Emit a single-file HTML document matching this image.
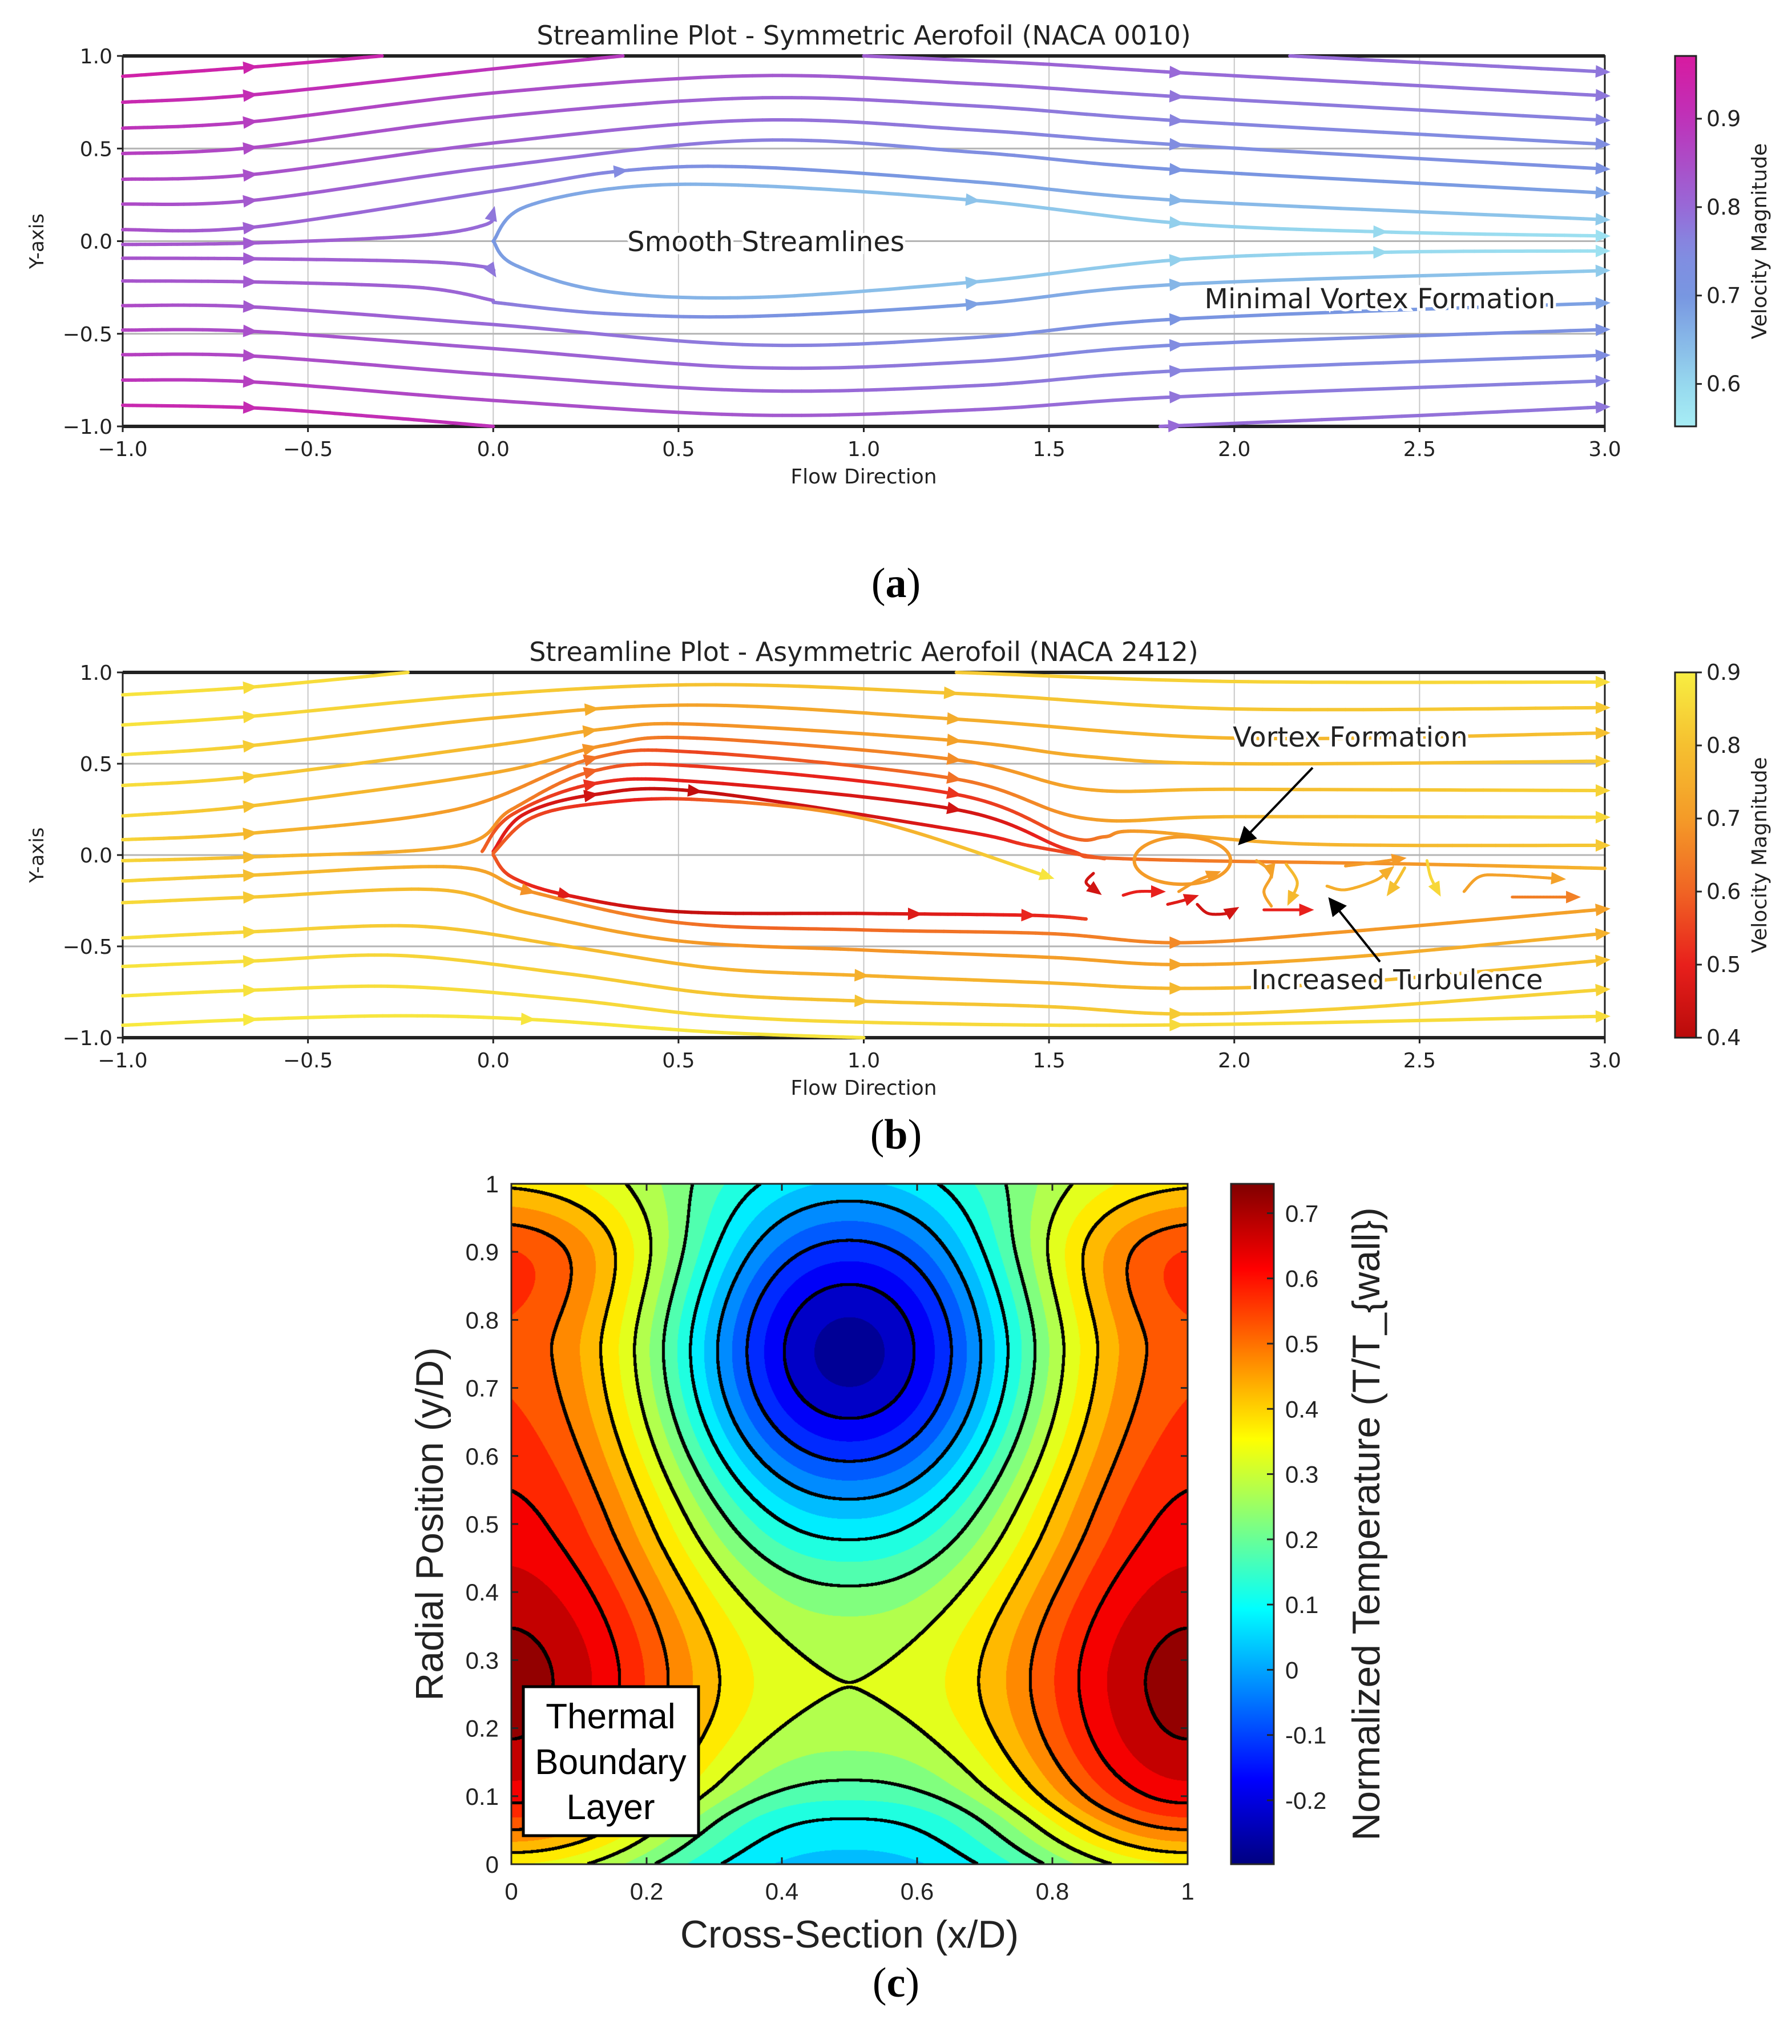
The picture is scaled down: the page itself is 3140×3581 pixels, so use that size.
<!DOCTYPE html>
<html><head><meta charset="utf-8"><style>
html,body{margin:0;padding:0;background:#fff}
#root{position:relative;width:3140px;height:3581px;overflow:hidden;background:#fff}
#cv{position:absolute;left:896px;top:2074px}
#svg{position:absolute;left:0;top:0}
</style></head><body>
<div id="root">
<canvas id="cv" width="1185" height="1192"></canvas>
<svg id="svg" width="3140" height="3581" xmlns="http://www.w3.org/2000/svg"></svg>
</div>
<script>
// ---------- DATA ----------
const xTicksAB=[-1,-0.5,0,0.5,1,1.5,2,2.5,3];
const xTickLabelsAB=["\u22121.0","\u22120.5","0.0","0.5","1.0","1.5","2.0","2.5","3.0"];
const yTicksAB=[-1,-0.5,0,0.5,1];
const yTickLabelsAB=["\u22121.0","\u22120.5","0.0","0.5","1.0"];
const cbTicksA=[0.6,0.7,0.8,0.9];
const cbTicksB=[0.4,0.5,0.6,0.7,0.8,0.9];
const cbTicksC=[-0.2,-0.1,0,0.1,0.2,0.3,0.4,0.5,0.6,0.7];
const cbTickLabelsC=["-0.2","-0.1","0","0.1","0.2","0.3","0.4","0.5","0.6","0.7"];
const xTicksC=[0,0.2,0.4,0.6,0.8,1];
const xTickLabelsC=["0","0.2","0.4","0.6","0.8","1"];
const yTicksC=[0,0.1,0.2,0.3,0.4,0.5,0.6,0.7,0.8,0.9,1];
const yTickLabelsC=["0","0.1","0.2","0.3","0.4","0.5","0.6","0.7","0.8","0.9","1"];

// panel (a) streamlines
const linesA_pts=[
 [[-1,.89],[-.65,.94],[-.3,1.0]],
 [[-1,.75],[-.65,.79],[0,.93],[.35,1.0]],
 [[1.0,1.0],[1.45,.96],[1.85,.91],[2.4,.85],[3,.785]],
 [[2.15,1.0],[2.6,.955],[3,.914]],
 [[-1,.61],[-.65,.645],[0,.8],[.7,.893],[1.3,.85],[1.85,.78],[3,.653]],
 [[-1,.473],[-.65,.505],[0,.67],[.7,.773],[1.3,.73],[1.85,.65],[3,.523]],
 [[-1,.334],[-.65,.36],[0,.53],[.7,.653],[1.3,.6],[1.85,.52],[3,.39]],
 [[-1,.2],[-.65,.22],[0,.4],[.7,.544],[1.3,.48],[1.85,.385],[3,.26]],
 [[-1,.062],[-.65,.075],[0,.27],[.35,.38],[.7,.4],[1.3,.32],[1.85,.22],[3,.116]],
 [[-1,-.018],[-.65,-.01],[-.2,.03],[-.02,.09],[0,.16]],
 [[0,0],[.08,.18],[.35,.29],[.7,.3],[1.3,.22],[1.85,.097],[2.4,.05],[3,.028]],
 [[-1,-.092],[-.65,-.095],[-.2,-.11],[-.02,-.14],[0,-.17]],
 [[0,0],[.06,-.13],[.3,-.27],[.7,-.304],[1.3,-.22],[1.85,-.1],[2.4,-.06],[3,-.053]],
 [[-1,-.215],[-.65,-.22],[-.2,-.25],[0,-.32]],
 [[0,-.33],[.3,-.39],[.7,-.406],[1.3,-.34],[1.85,-.233],[3,-.159]],
 [[-1,-.348],[-.65,-.355],[0,-.45],[.7,-.56],[1.3,-.52],[1.85,-.42],[3,-.334]],
 [[-1,-.48],[-.65,-.487],[0,-.58],[.7,-.683],[1.3,-.65],[1.85,-.56],[3,-.477]],
 [[-1,-.613],[-.65,-.62],[0,-.72],[.7,-.807],[1.3,-.78],[1.85,-.7],[3,-.616]],
 [[-1,-.75],[-.65,-.76],[0,-.86],[.7,-.939],[1.3,-.91],[1.85,-.84],[3,-.754]],
 [[-1,-.886],[-.65,-.9],[-.3,-.95],[0,-1.0]],
 [[1.8,-1.0],[2.4,-.95],[3,-.895]]
];
const linesA_v=[[.95,.93],[.93,.88],[.82,.78],[.8,.78],[.9,.76],[.88,.74],[.87,.72],[.86,.68],[.85,.62],[.84,.78],[.7,.58],[.84,.78],[.7,.58],[.84,.8],[.78,.62],[.86,.68],[.87,.72],[.88,.74],[.9,.76],[.93,.9],[.8,.78]];
const linesA_arrows=[[-.65],[-.65],[1.85,3],[3],[-.65,1.85,3],[-.65,1.85,3],[-.65,1.85,3],[-.65,1.85,3],[-.65,.35,1.85,3],[-.65,0],[1.3,1.85,2.4,3],[-.65,0],[1.3,1.85,2.4,3],[-.65],[1.3,1.85,3],[-.65,1.85,3],[-.65,1.85,3],[-.65,1.85,3],[-.65,1.85,3],[-.65],[1.85,3]];

// panel (b) streamlines
const linesB_pts=[
 [[-1,.877],[-.65,.92],[-.23,1.0]],
 [[1.25,1.0],[2,.95],[3,.947]],
 [[-1,.712],[-.65,.76],[0,.88],[.6,.933],[1.3,.88],[2,.8],[3,.807]],
 [[-1,.549],[-.65,.6],[0,.75],[.55,.821],[1.25,.744],[2,.64],[3,.668]],
 [[-1,.381],[-.65,.43],[0,.6],[.3,.69],[.55,.716],[1.25,.626],[1.6,.54],[2,.5],[3,.514]],
 [[-1,.214],[-.65,.27],[0,.45],[.3,.6],[.55,.64],[1.25,.521],[1.6,.36],[2,.36],[3,.353]],
 [[-1,.084],[-.65,.12],[-.1,.25],[.27,.53],[.55,.563],[1.25,.416],[1.6,.2],[2,.21],[3,.207]],
 [[-1,-.031],[-.65,-.01],[-.1,.05],[.05,.25],[.27,.46],[.55,.486],[1.25,.332],[1.55,.1],[1.65,.1],[1.75,.13],[2.2,.06],[3,.053]],
 [[-.03,.02],[.05,.22],[.27,.39],[.55,.402],[1.25,.249],[1.55,.03],[1.7,-.02],[2.5,-.05],[3,-.073]],
 [[0,.02],[.08,.22],[.27,.33],[.55,.349],[1.25,.137],[1.45,.05],[1.65,-.02]],
 [[0,.01],[.1,.2],[.27,.28],[.55,.304],[1.0,.2],[1.5,-.12]],
 [[0,0],[.05,-.12],[.2,-.22],[.5,-.31],[1.0,-.32],[1.45,-.33],[1.6,-.35]],
 [[-1,-.142],[-.65,-.11],[-.1,-.066],[.1,-.2],[.5,-.37],[1,-.41],[1.5,-.43],[1.85,-.48],[2.3,-.42],[3,-.296]],
 [[-1,-.261],[-.65,-.23],[-.15,-.19],[.1,-.32],[.5,-.47],[1,-.52],[1.5,-.56],[1.85,-.6],[2.3,-.56],[3,-.429]],
 [[-1,-.454],[-.65,-.42],[-.2,-.39],[.2,-.5],[.6,-.62],[1.0,-.66],[1.5,-.7],[1.85,-.73],[2.3,-.7],[3,-.575]],
 [[-1,-.61],[-.65,-.58],[-.25,-.55],[.2,-.65],[.6,-.76],[1,-.8],[1.5,-.83],[1.85,-.87],[2.3,-.84],[3,-.736]],
 [[-1,-.771],[-.65,-.74],[-.25,-.72],[.2,-.79],[.6,-.88],[1.1,-.92],[1.85,-.93],[3,-.883]],
 [[-1,-.932],[-.65,-.9],[-.25,-.88],[.1,-.9],[.6,-.97],[1.0,-1.0]]
];
const linesB_v=[[.88,.86,.86],[.82,.84,.86],[.88,.8,.82],[.88,.72,.8],[.87,.68,.82],[.86,.62,.84],[.85,.55,.85],[.85,.5,.82],[.6,.45,.78],[.5,.42,.6],[.6,.5,.88],[.6,.42,.55],[.85,.6,.72],[.86,.68,.76],[.87,.75,.8],[.88,.8,.84],[.88,.85,.86],[.89,.88,.88]];
const linesB_arrows=[[-.65],[3],[-.65,1.25,3],[-.65,.27,1.25,3],[-.65,.27,1.25,3],[-.65,.27,1.25,3],[-.65,.27,1.25,3],[-.65,.27,1.25,3],[.27,1.25],[.27,.55],[1.5],[.2,1.15,1.45],[-.65,.1,1.85,3],[-.65,1.85,3],[-.65,1.0,1.85,3],[-.65,1.0,1.85,3],[-.65,1.85,3],[-.65,.1]];
const fragB_pts=[
 [[1.62,-.1],[1.6,-.15],[1.63,-.2]],
 [[1.7,-.22],[1.74,-.2],[1.8,-.2]],
 [[1.82,-.27],[1.86,-.25],[1.89,-.23]],
 [[1.9,-.27],[1.93,-.32],[1.98,-.32],[2.0,-.3]],
 [[2.08,-.3],[2.13,-.3],[2.2,-.3]],
 [[2.06,-.03],[2.1,-.1],[2.08,-.2],[2.1,-.28]],
 [[2.14,-.05],[2.17,-.15],[2.15,-.25]],
 [[2.25,-.17],[2.3,-.19],[2.38,-.14],[2.42,-.08]],
 [[2.46,-.07],[2.44,-.14],[2.42,-.2]],
 [[2.52,-.03],[2.53,-.12],[2.55,-.2]],
 [[2.62,-.2],[2.66,-.12],[2.72,-.11],[2.88,-.13]],
 [[2.75,-.23],[2.92,-.23]],
 [[2.3,-.06],[2.38,-.04],[2.45,-.02]],
 [[1.85,-.2],[1.9,-.14],[1.95,-.1]]
];
const fragB_v=[.45,.5,.48,.45,.5,.72,.78,.75,.8,.85,.72,.65,.7,.7];
const vortexB={cx:1.86,cy:-0.03,rx:0.13,ry:0.13,v:0.7};

// panel (c) temperature field profiles
const centerY=[0,.065,.12,.25,.5,.75,1];
const centerT=[.03,.1,.2,.322,.3,.25,.28];
const wallY=[0,.05,.1,.25,.5,.75,.9,1];
const wallT=[.35,.5,.62,.72,.63,.56,.57,.4];
const coldCore={x:0.5,y:0.75,depth:0.52,sigma:0.2};
const contourLevels=[-0.2,-0.1,0,0.1,0.2,0.3,0.4,0.5,0.6,0.7];

// ---------- RENDER ----------
const NS='http://www.w3.org/2000/svg';
const svg=document.getElementById('svg');
function mk(tag,attrs,parent){const e=document.createElementNS(NS,tag);for(const k in attrs)e.setAttribute(k,attrs[k]);(parent||svg).appendChild(e);return e;}
function txt(s,x,y,size,anchor,parent,extra){const t=mk('text',Object.assign({x:x,y:y,'font-size':size,'text-anchor':anchor||'middle',fill:'#222'},extra||{}),parent);t.textContent=s;return t;}

const PA={x0:215,x1:2812,y0:98,y1:747};
const PB={x0:215,x1:2812,y0:1178,y1:1818};
const PC={x0:896,x1:2081,y0:2074,y1:3266};
const sx=(P,x)=>P.x0+(x+1)/4*(P.x1-P.x0);
const sy=(P,y)=>P.y0+(1-y)/2*(P.y1-P.y0);

function lerpStops(stops,v){if(v<=stops[0][0])return stops[0][1];for(let i=1;i<stops.length;i++){if(v<=stops[i][0]){const t=(v-stops[i-1][0])/(stops[i][0]-stops[i-1][0]);const a=stops[i-1][1],b=stops[i][1];return [0,1,2].map(k=>Math.round(a[k]+(b[k]-a[k])*t));}}return stops[stops.length-1][1];}
const cmapA=[[.55,[168,238,245]],[.6,[150,216,238]],[.7,[120,150,225]],[.75,[130,140,225]],[.8,[152,105,215]],[.9,[190,50,185]],[.97,[215,26,160]]];
const cmapB=[[.4,[185,10,10]],[.5,[232,32,28]],[.6,[240,100,36]],[.7,[244,155,40]],[.8,[245,192,48]],[.9,[248,238,66]]];
const rgb=c=>`rgb(${c[0]},${c[1]},${c[2]})`;

function catmull(pts,n){const out=[];for(let i=0;i<pts.length-1;i++){const p0=pts[Math.max(0,i-1)],p1=pts[i],p2=pts[i+1],p3=pts[Math.min(pts.length-1,i+2)];for(let k=0;k<n;k++){const t=k/n,t2=t*t,t3=t2*t;out.push([0,1].map(j=>0.5*((2*p1[j])+(-p0[j]+p2[j])*t+(2*p0[j]-5*p1[j]+4*p2[j]-p3[j])*t2+(-p0[j]+3*p1[j]-3*p2[j]+p3[j])*t3)));}}out.push(pts[pts.length-1]);return out;}

function drawStream(P,g,pts,vs,arrows,cmap,w){
  const px=pts.map(p=>[sx(P,p[0]),sy(P,p[1])]);
  const s=catmull(px,24);const N=s.length;
  const vAt=i=>{const t=i/(N-1);if(vs.length===2)return vs[0]+(vs[1]-vs[0])*t;if(t<.5)return vs[0]+(vs[1]-vs[0])*t*2;return vs[1]+(vs[2]-vs[1])*(t-.5)*2;};
  for(let i=0;i<N-1;i++){
    mk('line',{x1:s[i][0].toFixed(1),y1:s[i][1].toFixed(1),x2:s[i+1][0].toFixed(1),y2:s[i+1][1].toFixed(1),stroke:rgb(lerpStops(cmap,vAt(i))),'stroke-width':w,'stroke-linecap':'round'},g);
  }
  (arrows||[]).forEach(ax=>{
    const X=sx(P,ax);let best=-1,bd=1e9;
    for(let i=0;i<N;i++){const d=Math.abs(s[i][0]-X);if(d<bd){bd=d;best=i;}}
    if(bd>20)return;
    const i0=Math.max(0,best-2),i1=Math.min(N-1,best+2);
    const dx=s[i1][0]-s[i0][0],dy=s[i1][1]-s[i0][1],L=Math.hypot(dx,dy)||1;
    const ux=dx/L,uy=dy/L,tip=[s[best][0]+ux*10,s[best][1]+uy*10];
    const b=[tip[0]-ux*26,tip[1]-uy*26];
    const a=mk('polygon',{points:`${tip[0]},${tip[1]} ${b[0]-uy*11},${b[1]+ux*11} ${b[0]+uy*11},${b[1]-ux*11}`,fill:rgb(lerpStops(cmap,vAt(best)))},g);
    
    
  });
}

function axesAB(P,title,cbTicks,cbMin,cbMax,cmap,id){
  const g=mk('g',{});
  
  
  xTicksAB.forEach(v=>{if(v>-1&&v<3){const gl=mk('line',{x1:sx(P,v),x2:sx(P,v),y1:P.y0,y2:P.y1,stroke:'#c8c8c8','stroke-width':2},g);}});
  yTicksAB.forEach(v=>{if(v>-1&&v<1){const gl=mk('line',{x1:P.x0,x2:P.x1,y1:sy(P,v),y2:sy(P,v),stroke:'#b4b4b4','stroke-width':3},g);}});
  const fr=mk('rect',{x:P.x0,y:P.y0,width:P.x1-P.x0,height:P.y1-P.y0,fill:'none',stroke:'#222','stroke-width':3},g);
  
  mk('line',{x1:P.x0,x2:P.x1,y1:P.y0,y2:P.y0,stroke:'#222','stroke-width':6},g);
  mk('line',{x1:P.x0,x2:P.x1,y1:P.y1,y2:P.y1,stroke:'#222','stroke-width':6},g);
  xTicksAB.forEach((v,i)=>{mk('line',{x1:sx(P,v),x2:sx(P,v),y1:P.y1,y2:P.y1+10,stroke:'#222','stroke-width':3},g);const t=txt(xTickLabelsAB[i],sx(P,v),P.y1+52,36,'middle',g,{'font-family':'DejaVu Sans, Liberation Sans, sans-serif'});});
  yTicksAB.forEach((v,i)=>{mk('line',{x1:P.x0-10,x2:P.x0,y1:sy(P,v),y2:sy(P,v),stroke:'#222','stroke-width':3},g);const t=txt(yTickLabelsAB[i],P.x0-18,sy(P,v)+13,36,'end',g,{'font-family':'DejaVu Sans, Liberation Sans, sans-serif'});});
  const tt=txt(title,(P.x0+P.x1)/2,P.y0-20,46,'middle',g,{'font-family':'DejaVu Sans, Liberation Sans, sans-serif'});
  
  const xl=txt('Flow Direction',(P.x0+P.x1)/2,P.y1+100,36,'middle',g,{'font-family':'DejaVu Sans, Liberation Sans, sans-serif'});
  
  const yl=txt('Y-axis',0,0,34,'middle',g,{'font-family':'DejaVu Sans, Liberation Sans, sans-serif',transform:`translate(76,${(P.y0+P.y1)/2}) rotate(-90)`});
  
  const cbx0=2935,cbx1=2972;
  const gid='grad'+id;const defs=mk('defs',{},g);const lg=mk('linearGradient',{id:gid,x1:0,y1:1,x2:0,y2:0},defs);
  for(let k=0;k<=20;k++){const v=cbMin+(cbMax-cbMin)*k/20;mk('stop',{offset:k/20,'stop-color':rgb(lerpStops(cmap,v))},lg);}
  const cb=mk('rect',{x:cbx0,y:P.y0,width:cbx1-cbx0,height:P.y1-P.y0,fill:`url(#${gid})`,stroke:'#222','stroke-width':3},g);
  
  const cy=v=>P.y1-(v-cbMin)/(cbMax-cbMin)*(P.y1-P.y0);
  cbTicks.forEach(v=>{mk('line',{x1:cbx1,x2:cbx1+10,y1:cy(v),y2:cy(v),stroke:'#222','stroke-width':3},g);const t=txt(v.toFixed(1),cbx1+18,cy(v)+13,38,'start',g,{'font-family':'DejaVu Sans, Liberation Sans, sans-serif'});});
  const cl=txt('Velocity Magnitude',0,0,36,'middle',g,{'font-family':'DejaVu Sans, Liberation Sans, sans-serif',transform:`translate(3095,${(P.y0+P.y1)/2}) rotate(-90)`});
  
  return g;
}

// Panel A
axesAB(PA,'Streamline Plot - Symmetric Aerofoil (NACA 0010)',cbTicksA,0.552,0.971,cmapA,'panel-a');
const gA=mk('g',{});


linesA_pts.forEach((pts,i)=>{const g=mk('g',{},gA);drawStream(PA,g,pts,linesA_v[i],linesA_arrows[i],cmapA,6);});
let t1=txt('Smooth Streamlines',1342,440,48,'middle',svg,{'font-family':'DejaVu Sans, Liberation Sans, sans-serif',stroke:'#fff','stroke-width':10,'paint-order':'stroke'});

let t2=txt('Minimal Vortex Formation',2418,540,48,'middle',svg,{'font-family':'DejaVu Sans, Liberation Sans, sans-serif',stroke:'#fff','stroke-width':10,'paint-order':'stroke'});


// Panel B
axesAB(PB,'Streamline Plot - Asymmetric Aerofoil (NACA 2412)',cbTicksB,0.4,0.9,cmapB,'panel-b');
const gB=mk('g',{});


linesB_pts.forEach((pts,i)=>{const g=mk('g',{},gB);drawStream(PB,g,pts,linesB_v[i],linesB_arrows[i],cmapB,6);});
fragB_pts.forEach((pts,i)=>{const g=mk('g',{},gB);drawStream(PB,g,pts,[fragB_v[i],fragB_v[i]],[pts[pts.length-1][0]],cmapB,5);});
const vx=mk('ellipse',{cx:sx(PB,vortexB.cx),cy:sy(PB,vortexB.cy),rx:vortexB.rx/4*(PB.x1-PB.x0),ry:vortexB.ry/2*(PB.y1-PB.y0),fill:'none',stroke:rgb(lerpStops(cmapB,vortexB.v)),'stroke-width':6},gB);

let t3=txt('Vortex Formation',2366,1308,48,'middle',svg,{'font-family':'DejaVu Sans, Liberation Sans, sans-serif',stroke:'#fff','stroke-width':10,'paint-order':'stroke'});

let t4=txt('Increased Turbulence',2448,1733,48,'middle',svg,{'font-family':'DejaVu Sans, Liberation Sans, sans-serif',stroke:'#fff','stroke-width':10,'paint-order':'stroke'});

const defsArr=mk('defs',{});const mkr=mk('marker',{id:'ah',markerWidth:8,markerHeight:8,refX:7,refY:4,orient:'auto',markerUnits:'strokeWidth'},defsArr);mk('path',{d:'M0,0 L8,4 L0,8 Z',fill:'#000'},mkr);
let a1=mk('line',{x1:2300,y1:1345,x2:2172,y2:1478,stroke:'#000','stroke-width':4,'marker-end':'url(#ah)'});

let a2=mk('line',{x1:2418,y1:1685,x2:2330,y2:1575,stroke:'#000','stroke-width':4,'marker-end':'url(#ah)'});


// Panel labels
[['a',1046],['b',2012],['c',3498]].forEach(([s,y])=>{const t=mk('text',{x:1570,y:y,'font-size':74,'text-anchor':'middle','font-family':'Liberation Serif, serif',fill:'#000'});t.appendChild(document.createTextNode('('));const b=mk('tspan',{'font-weight':'bold'},t);b.textContent=s;t.appendChild(document.createTextNode(')'));});

// Panel C field — smooth cubic Hermite interpolation of the profiles
function interp(xs,ys,v){
  const n=xs.length;if(v<=xs[0])return ys[0];if(v>=xs[n-1])return ys[n-1];
  const sl=i=>{if(i===0)return (ys[1]-ys[0])/(xs[1]-xs[0]);if(i===n-1)return (ys[n-1]-ys[n-2])/(xs[n-1]-xs[n-2]);return 0.5*((ys[i]-ys[i-1])/(xs[i]-xs[i-1])+(ys[i+1]-ys[i])/(xs[i+1]-xs[i]));};
  for(let i=1;i<n;i++){if(v<=xs[i]){const h=xs[i]-xs[i-1],t=(v-xs[i-1])/h,t2=t*t,t3=t2*t;
    return (2*t3-3*t2+1)*ys[i-1]+(t3-2*t2+t)*h*sl(i-1)+(-2*t3+3*t2)*ys[i]+(t3-t2)*h*sl(i);}}
  return ys[n-1];
}
function field(x,y){const C=interp(centerY,centerT,y),W=interp(wallY,wallT,y);const u=(1+Math.cos(2*Math.PI*x))/2;const P=Math.pow(u,1.3);const r2=(x-coldCore.x)**2+(y-coldCore.y)**2;return C+(W-C)*P-coldCore.depth*Math.exp(-r2/(2*coldCore.sigma**2));}
const cMin=-0.298,cMax=0.745;
function jet(t){const c=v=>Math.max(0,Math.min(1,v));return [c(1.5-Math.abs(4*t-3)),c(1.5-Math.abs(4*t-2)),c(1.5-Math.abs(4*t-1))].map(v=>Math.round(v*255));}
(function(){
  const cv=document.getElementById('cv'),ctx=cv.getContext('2d');const W=cv.width,H=cv.height;
  const img=ctx.createImageData(W,H);const lvl=new Int16Array(W*H);
  const L0=contourLevels[0],dL=contourLevels[1]-contourLevels[0];
  for(let j=0;j<H;j++){const y=1-j/(H-1);for(let i=0;i<W;i++){const x=i/(W-1);const T=field(x,y);
    const tq=Math.floor(T/0.05)*0.05+0.025;const c=jet((tq-cMin)/(cMax-cMin));const o=(j*W+i)*4;img.data[o]=c[0];img.data[o+1]=c[1];img.data[o+2]=c[2];img.data[o+3]=255;
    lvl[j*W+i]=Math.floor((T-L0)/dL)+100;}}
  const edge=new Uint8Array(W*H);
  for(let j=0;j<H-1;j++)for(let i=0;i<W-1;i++){const k=j*W+i;if(lvl[k]!==lvl[k+1]||lvl[k]!==lvl[k+W])edge[k]=1;}
  for(let j=0;j<H;j++)for(let i=0;i<W;i++){let on=0;for(let dj=-2;dj<=2&&!on;dj++)for(let di=-2;di<=2;di++){const jj=j+dj,ii=i+di;if(jj>=0&&jj<H&&ii>=0&&ii<W&&edge[jj*W+ii]){on=1;break;}}if(on){const o=(j*W+i)*4;img.data[o]=0;img.data[o+1]=0;img.data[o+2]=0;}}
  ctx.putImageData(img,0,0);
})();
// Panel C axes
(function(){
  const g=mk('g',{});
  
  
  const X=v=>PC.x0+v*(PC.x1-PC.x0),Y=v=>PC.y1-v*(PC.y1-PC.y0);
  const fr=mk('rect',{x:PC.x0,y:PC.y0,width:PC.x1-PC.x0,height:PC.y1-PC.y0,fill:'none',stroke:'#262626','stroke-width':3},g);
  
  const F='Liberation Sans, Arial, sans-serif';
  xTicksC.forEach((v,i)=>{mk('line',{x1:X(v),x2:X(v),y1:PC.y1,y2:PC.y1-12,stroke:'#262626','stroke-width':3},g);mk('line',{x1:X(v),x2:X(v),y1:PC.y0,y2:PC.y0+12,stroke:'#262626','stroke-width':3},g);const t=txt(xTickLabelsC[i],X(v),PC.y1+62,42,'middle',g,{'font-family':F});});
  yTicksC.forEach((v,i)=>{mk('line',{x1:PC.x0,x2:PC.x0+12,y1:Y(v),y2:Y(v),stroke:'#262626','stroke-width':3},g);mk('line',{x1:PC.x1,x2:PC.x1-12,y1:Y(v),y2:Y(v),stroke:'#262626','stroke-width':3},g);const t=txt(yTickLabelsC[i],PC.x0-22,Y(v)+15,42,'end',g,{'font-family':F});});
  const xl=txt('Cross-Section (x/D)',(PC.x0+PC.x1)/2,3412,68,'middle',g,{'font-family':F});
  const yl=txt('Radial Position (y/D)',0,0,68,'middle',g,{'font-family':F,transform:`translate(776,${(PC.y0+PC.y1)/2}) rotate(-90)`});
  const defs=mk('defs',{},g);const lg=mk('linearGradient',{id:'gradC',x1:0,y1:1,x2:0,y2:0},defs);
  for(let k=0;k<=40;k++){const c=jet(k/40);mk('stop',{offset:k/40,'stop-color':rgb(c)},lg);}
  const cb=mk('rect',{x:2157,y:PC.y0,width:75,height:PC.y1-PC.y0,fill:'url(#gradC)',stroke:'#262626','stroke-width':3},g);
  
  const cy=v=>PC.y1-(v-cMin)/(cMax-cMin)*(PC.y1-PC.y0);
  cbTicksC.forEach((v,i)=>{mk('line',{x1:2220,x2:2232,y1:cy(v),y2:cy(v),stroke:'#262626','stroke-width':3},g);const t=txt(cbTickLabelsC[i],2252,cy(v)+15,42,'start',g,{'font-family':F});});
  const cl=txt('Normalized Temperature (T/T_{wall})',0,0,68,'middle',g,{'font-family':F,transform:`translate(2417,${(PC.y0+PC.y1)/2}) rotate(-90)`});
  
  const bx=mk('rect',{x:917,y:2955,width:307,height:261,fill:'#fff',stroke:'#000','stroke-width':5},g);
  
  [['Thermal',3028],['Boundary',3108],['Layer',3187]].forEach(([s,y])=>{const t=txt(s,1070,y,62,'middle',g,{'font-family':F,fill:'#000'});});
})();
</script>
</body></html>
